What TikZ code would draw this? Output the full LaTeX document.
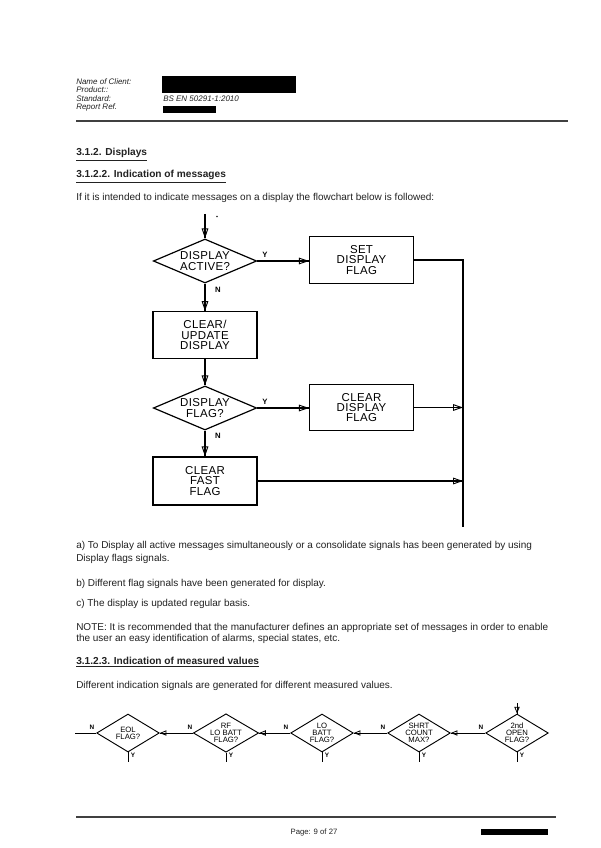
\documentclass[tikz,border=0pt]{standalone}
\usepackage{fontspec}
\setmainfont{Liberation Sans}
\newfontfamily\flowfont[LetterSpace=3]{Liberation Sans}
\usetikzlibrary{shapes.geometric,arrows.meta,decorations.markings}
\definecolor{ink}{HTML}{222222}
\tikzset{
  body/.style={anchor=base west,inner sep=0pt,font=\fontsize{7.5}{8.6}\selectfont,text=ink},
  hdr/.style={anchor=base west,inner sep=0pt,font=\fontsize{6}{7}\selectfont\itshape,text=ink},
  head/.style={anchor=base west,inner sep=0pt,font=\fontsize{7.6}{8.6}\selectfont\bfseries,text=ink},
  fbox/.style={draw,line width=0.9pt,minimum width=78pt,minimum height=35pt,inner sep=0pt,align=center,font=\flowfont\fontsize{8.6}{7.8}\selectfont},
  fdia/.style={diamond,draw,line width=0.9pt,minimum width=77.5pt,minimum height=33pt,inner sep=0pt,shape aspect=2.3,align=center,font=\flowfont\fontsize{8.6}{7.8}\selectfont},
  sdia/.style={diamond,draw,line width=0.7pt,minimum width=47pt,minimum height=28.5pt,inner sep=0pt,shape aspect=1.7,align=center,font=\fontsize{5.8}{5.4}\selectfont},
  flow/.style={line width=0.9pt},
  sflow/.style={line width=0.7pt},
  yn/.style={font=\fontsize{5.8}{6}\selectfont\bfseries,inner sep=0.5pt},
  syn/.style={font=\fontsize{4.8}{5}\selectfont\bfseries,inner sep=0.5pt},
  tipend/.style={postaction={decorate,decoration={markings,mark=at position 1 with {\arrow[line width=0.7pt]{Triangle[open,length=7.5pt,width=5pt]}}}}},
  tipsmall/.style={postaction={decorate,decoration={markings,mark=at position 1 with {\arrow[line width=0.6pt]{Triangle[open,length=5pt,width=4pt]}}}}}
}
\begin{document}
\begin{tikzpicture}[x=0.75pt,y=-0.75pt]
\useasboundingbox (0,0) rectangle (600,848);
\fill[white] (0,0) rectangle (600,848);

% header
\node[hdr] (h1) at (76,85) {Name of Client:};
\node[hdr] (h2) at (76,93) {Product::};
\node[hdr] (h3) at (76,101.5) {Standard:};
\node[hdr] (h4) at (76,110) {Report Ref.};
\node[hdr] (h5) at (163,101.5) {BS EN 50291-1:2010};
\fill[black] (162,76) rectangle (296,93.5);
\fill[black] (163,106.5) rectangle (216,113);
\draw[line width=0.8pt,black!75] (76,121) -- (568,121);

% headings and text
\node[head] (t1) at (76,156) {\underline{3.1.2. Displays}};
\node[head] (t2) at (76,178) {\underline{3.1.2.2. Indication of messages}};
\node[body] (t3) at (76,201) {If it is intended to indicate messages on a display the flowchart below is followed:};

% flowchart
\coordinate (start) at (205,214);
\fill[ink] (217,216.5) circle (0.8);
\node[fdia] (d1) at (205,261) {DISPLAY\\ACTIVE?};
\node[fbox] (b1) at (361.5,260) {SET\\DISPLAY\\FLAG};
\node[fbox] (b2) at (205,335) {CLEAR/\\UPDATE\\DISPLAY};
\node[fdia] (d2) at (205,408) {DISPLAY\\FLAG?};
\node[fbox] (b3) at (361.5,407.5) {CLEAR\\DISPLAY\\FLAG};
\node[fbox,minimum height=36pt] (b4) at (205,481) {CLEAR\\FAST\\FLAG};
\coordinate (r1) at (463,260);
\coordinate (r2) at (463,407.5);
\coordinate (r3) at (463,481);
\coordinate (rend) at (463,527);

\draw[flow,tipend] (start) -- (d1.north);
\draw[flow,tipend] (d1.east) -- (b1.west |- d1.east);
\node[yn] (y1) at (265,255) {Y};
\draw[flow] (b1.east) -- (r1) -- (rend);
\draw[flow,tipend] (d1.south) -- (b2.north);
\node[yn] (n1) at (218,290) {N};
\draw[flow,tipend] (b2.south) -- (d2.north);
\draw[flow,tipend] (d2.east) -- (b3.west |- d2.east);
\node[yn] (y2) at (265,402) {Y};
\draw[flow,tipend] (b3.east) -- (r2);
\draw[flow,tipend] (d2.south) -- (b4.north);
\node[yn] (n2) at (218,436) {N};
\draw[flow,tipend] (b4.east) -- (r3);

% paragraphs
\node[body] (pa1) at (76,548.5) {a) To Display all active messages simultaneously or a consolidate signals has been generated by using};
\node[body] (pa2) at (76,561) {Display flags signals.};
\node[body] (pb) at (76,586) {b) Different flag signals have been generated for display.};
\node[body] (pc) at (76,606) {c) The display is updated regular basis.};
\node[body] (pn1) at (76,630) {NOTE: It is recommended that the manufacturer defines an appropriate set of messages in order to enable};
\node[body] (pn2) at (76,641) {the user an easy identification of alarms, special states, etc.};
\node[head] (t4) at (76,664) {\underline{3.1.2.3. Indication of measured values}};
\node[body] (pd) at (76,688) {Different indication signals are generated for different measured values.};

% bottom chain
\node[sdia] (e1) at (128,733) {EOL\\FLAG?};
\node[sdia] (e2) at (226,733) {RF\\LO BATT\\FLAG?};
\node[sdia] (e3) at (322,733) {LO\\BATT\\FLAG?};
\node[sdia] (e4) at (419,733) {SHRT\\COUNT\\MAX?};
\node[sdia] (e5) at (517,733) {2nd\\OPEN\\FLAG?};
\coordinate (lend) at (75,733);
\coordinate (etop) at (517,703);
\foreach \x/\n in {128/1,226/2,322/3,419/4,517/5}{
  \coordinate (yb\n) at (\x,762);
  \draw[sflow] (e\n.south) -- (yb\n);
  \node[syn] (yl\n) at (\x+5,755) {Y};
  \node[syn] (nl\n) at (\x-36,727.5) {N};
}
\draw[sflow] (e1.west) -- (lend);
\draw[sflow,tipsmall] (e2.west) -- (e1.east);
\draw[sflow,tipsmall] (e3.west) -- (e2.east);
\draw[sflow,tipsmall] (e4.west) -- (e3.east);
\draw[sflow,tipsmall] (e5.west) -- (e4.east);
\draw[sflow,tipsmall] (etop) -- (e5.north);

% footer
\draw[line width=0.8pt,black!75] (76,817) -- (556,817);
\node[anchor=base,inner sep=0pt,font=\fontsize{5.8}{7}\selectfont,text=ink] (pg) at (314,834) {Page: 9 of 27};
\fill[black] (481,829) rectangle (548,835);
\end{tikzpicture}
\end{document}
